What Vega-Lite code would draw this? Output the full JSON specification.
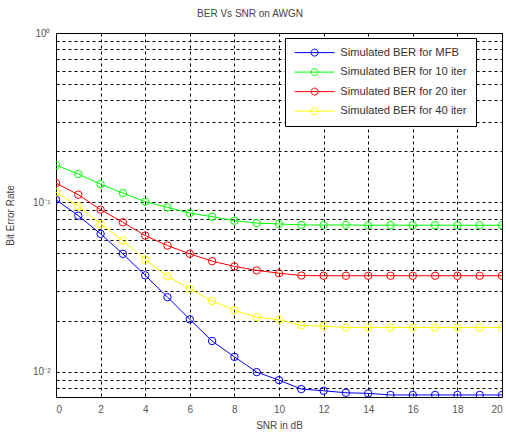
{
  "$schema": "https://vega.github.io/schema/vega-lite/v6.json",
  "autosize": {"type": "none"},
  "padding": {"left": 56, "top": 33, "right": 4, "bottom": 35},
  "width": 446,
  "height": 364,
  "background": "white",
  "title": {"text": "BER Vs SNR on AWGN", "font": "Liberation Sans", "fontSize": 10, "fontWeight": "normal", "color": "#444444", "offset": 9, "dx": -29},
  "config": {
    "view": {"stroke": "black", "strokeWidth": 1},
    "axis": {"labelFont": "Liberation Sans", "labelFontSize": 10, "labelColor": "#555555", "titleFont": "Liberation Sans", "titleFontSize": 10, "titleFontWeight": "normal", "titleColor": "#444444", "grid": true, "gridColor": "black", "gridDash": [3, 3], "gridOpacity": 1, "gridWidth": 1, "ticks": false, "domain": false},
    "legend": {"labelFont": "Liberation Sans", "labelFontSize": 11.2, "labelColor": "#333333"}
  },
  "data": {"values": [
    {"snr": 0, "ber": 0.1037, "series": "Simulated BER for MFB"},
    {"snr": 1, "ber": 0.0835, "series": "Simulated BER for MFB"},
    {"snr": 2, "ber": 0.0652, "series": "Simulated BER for MFB"},
    {"snr": 3, "ber": 0.0497, "series": "Simulated BER for MFB"},
    {"snr": 4, "ber": 0.0371, "series": "Simulated BER for MFB"},
    {"snr": 5, "ber": 0.0276, "series": "Simulated BER for MFB"},
    {"snr": 6, "ber": 0.0204, "series": "Simulated BER for MFB"},
    {"snr": 7, "ber": 0.0152, "series": "Simulated BER for MFB"},
    {"snr": 8, "ber": 0.01225, "series": "Simulated BER for MFB"},
    {"snr": 9, "ber": 0.00996, "series": "Simulated BER for MFB"},
    {"snr": 10, "ber": 0.00893, "series": "Simulated BER for MFB"},
    {"snr": 11, "ber": 0.00791, "series": "Simulated BER for MFB"},
    {"snr": 12, "ber": 0.00773, "series": "Simulated BER for MFB"},
    {"snr": 13, "ber": 0.00752, "series": "Simulated BER for MFB"},
    {"snr": 14, "ber": 0.00746, "series": "Simulated BER for MFB"},
    {"snr": 15, "ber": 0.0073, "series": "Simulated BER for MFB"},
    {"snr": 16, "ber": 0.0073, "series": "Simulated BER for MFB"},
    {"snr": 17, "ber": 0.0073, "series": "Simulated BER for MFB"},
    {"snr": 18, "ber": 0.0073, "series": "Simulated BER for MFB"},
    {"snr": 19, "ber": 0.0073, "series": "Simulated BER for MFB"},
    {"snr": 20, "ber": 0.0073, "series": "Simulated BER for MFB"},
    {"snr": 0, "ber": 0.166, "series": "Simulated BER for 10 iter"},
    {"snr": 1, "ber": 0.147, "series": "Simulated BER for 10 iter"},
    {"snr": 2, "ber": 0.128, "series": "Simulated BER for 10 iter"},
    {"snr": 3, "ber": 0.1135, "series": "Simulated BER for 10 iter"},
    {"snr": 4, "ber": 0.101, "series": "Simulated BER for 10 iter"},
    {"snr": 5, "ber": 0.0935, "series": "Simulated BER for 10 iter"},
    {"snr": 6, "ber": 0.0864, "series": "Simulated BER for 10 iter"},
    {"snr": 7, "ber": 0.0824, "series": "Simulated BER for 10 iter"},
    {"snr": 8, "ber": 0.078, "series": "Simulated BER for 10 iter"},
    {"snr": 9, "ber": 0.0755, "series": "Simulated BER for 10 iter"},
    {"snr": 10, "ber": 0.0746, "series": "Simulated BER for 10 iter"},
    {"snr": 11, "ber": 0.0736, "series": "Simulated BER for 10 iter"},
    {"snr": 12, "ber": 0.0735, "series": "Simulated BER for 10 iter"},
    {"snr": 13, "ber": 0.0736, "series": "Simulated BER for 10 iter"},
    {"snr": 14, "ber": 0.0733, "series": "Simulated BER for 10 iter"},
    {"snr": 15, "ber": 0.0734, "series": "Simulated BER for 10 iter"},
    {"snr": 16, "ber": 0.0733, "series": "Simulated BER for 10 iter"},
    {"snr": 17, "ber": 0.0734, "series": "Simulated BER for 10 iter"},
    {"snr": 18, "ber": 0.0733, "series": "Simulated BER for 10 iter"},
    {"snr": 19, "ber": 0.0733, "series": "Simulated BER for 10 iter"},
    {"snr": 20, "ber": 0.0733, "series": "Simulated BER for 10 iter"},
    {"snr": 0, "ber": 0.130, "series": "Simulated BER for 20 iter"},
    {"snr": 1, "ber": 0.111, "series": "Simulated BER for 20 iter"},
    {"snr": 2, "ber": 0.0906, "series": "Simulated BER for 20 iter"},
    {"snr": 3, "ber": 0.0763, "series": "Simulated BER for 20 iter"},
    {"snr": 4, "ber": 0.0637, "series": "Simulated BER for 20 iter"},
    {"snr": 5, "ber": 0.0556, "series": "Simulated BER for 20 iter"},
    {"snr": 6, "ber": 0.0497, "series": "Simulated BER for 20 iter"},
    {"snr": 7, "ber": 0.045, "series": "Simulated BER for 20 iter"},
    {"snr": 8, "ber": 0.0419, "series": "Simulated BER for 20 iter"},
    {"snr": 9, "ber": 0.0397, "series": "Simulated BER for 20 iter"},
    {"snr": 10, "ber": 0.0382, "series": "Simulated BER for 20 iter"},
    {"snr": 11, "ber": 0.0370, "series": "Simulated BER for 20 iter"},
    {"snr": 12, "ber": 0.0369, "series": "Simulated BER for 20 iter"},
    {"snr": 13, "ber": 0.0369, "series": "Simulated BER for 20 iter"},
    {"snr": 14, "ber": 0.0369, "series": "Simulated BER for 20 iter"},
    {"snr": 15, "ber": 0.0369, "series": "Simulated BER for 20 iter"},
    {"snr": 16, "ber": 0.0369, "series": "Simulated BER for 20 iter"},
    {"snr": 17, "ber": 0.0369, "series": "Simulated BER for 20 iter"},
    {"snr": 18, "ber": 0.0369, "series": "Simulated BER for 20 iter"},
    {"snr": 19, "ber": 0.0369, "series": "Simulated BER for 20 iter"},
    {"snr": 20, "ber": 0.0369, "series": "Simulated BER for 20 iter"},
    {"snr": 0, "ber": 0.1145, "series": "Simulated BER for 40 iter"},
    {"snr": 1, "ber": 0.095, "series": "Simulated BER for 40 iter"},
    {"snr": 2, "ber": 0.0746, "series": "Simulated BER for 40 iter"},
    {"snr": 3, "ber": 0.0595, "series": "Simulated BER for 40 iter"},
    {"snr": 4, "ber": 0.046, "series": "Simulated BER for 40 iter"},
    {"snr": 5, "ber": 0.0366, "series": "Simulated BER for 40 iter"},
    {"snr": 6, "ber": 0.0309, "series": "Simulated BER for 40 iter"},
    {"snr": 7, "ber": 0.0262, "series": "Simulated BER for 40 iter"},
    {"snr": 8, "ber": 0.0231, "series": "Simulated BER for 40 iter"},
    {"snr": 9, "ber": 0.021, "series": "Simulated BER for 40 iter"},
    {"snr": 10, "ber": 0.0203, "series": "Simulated BER for 40 iter"},
    {"snr": 11, "ber": 0.0188, "series": "Simulated BER for 40 iter"},
    {"snr": 12, "ber": 0.0186, "series": "Simulated BER for 40 iter"},
    {"snr": 13, "ber": 0.01825, "series": "Simulated BER for 40 iter"},
    {"snr": 14, "ber": 0.01825, "series": "Simulated BER for 40 iter"},
    {"snr": 15, "ber": 0.01825, "series": "Simulated BER for 40 iter"},
    {"snr": 16, "ber": 0.01825, "series": "Simulated BER for 40 iter"},
    {"snr": 17, "ber": 0.01825, "series": "Simulated BER for 40 iter"},
    {"snr": 18, "ber": 0.01825, "series": "Simulated BER for 40 iter"},
    {"snr": 19, "ber": 0.01825, "series": "Simulated BER for 40 iter"},
    {"snr": 20, "ber": 0.01825, "series": "Simulated BER for 40 iter"}
  ]},
  "encoding": {
    "x": {"field": "snr", "type": "quantitative", "scale": {"domain": [0, 20], "nice": false, "zero": false},
      "axis": {"values": [0, 2, 4, 6, 8, 10, 12, 14, 16, 18, 20], "title": "SNR in dB", "labelPadding": 7, "titlePadding": 6}},
    "y": {"field": "ber", "type": "quantitative", "scale": {"type": "log", "domain": [0.0071, 1], "nice": false},
      "axis": {"values": [0.008, 0.009, 0.01, 0.02, 0.03, 0.04, 0.05, 0.06, 0.07, 0.08, 0.09, 0.1, 0.2, 0.3, 0.4, 0.5, 0.6, 0.7, 0.8, 0.9, 1],
        "labelExpr": "datum.value == 1 ? '10⁰' : datum.value == 0.1 ? '10⁻¹' : datum.value == 0.01 ? '10⁻²' : ''",
        "title": "Bit Error Rate", "labelPadding": 6, "titlePadding": 17}}
  },
  "layer": [
    {"mark": {"type": "line", "strokeWidth": 1, "clip": true},
     "encoding": {"color": {"field": "series", "type": "nominal",
       "scale": {"domain": ["Simulated BER for MFB", "Simulated BER for 10 iter", "Simulated BER for 20 iter", "Simulated BER for 40 iter"], "range": ["#0000FF", "#00FF00", "#FF0000", "#FFFF00"]},
       "legend": {"title": null, "orient": "none", "legendX": 229, "legendY": 5, "strokeColor": "black", "fillColor": "white", "padding": 9, "rowPadding": 6.5,
         "symbolType": "M-1,0L7,0M2.3,0A0.7,0.7,0,1,1,3.7,0A0.7,0.7,0,1,1,2.3,0", "symbolSize": 100, "symbolStrokeWidth": 1, "symbolFillColor": "transparent", "labelOffset": 35}}}},
    {"mark": {"type": "point", "shape": "circle", "filled": false, "size": 55, "strokeWidth": 1, "opacity": 1, "clip": true},
     "encoding": {"color": {"field": "series", "type": "nominal", "legend": null,
       "scale": {"domain": ["Simulated BER for MFB", "Simulated BER for 10 iter", "Simulated BER for 20 iter", "Simulated BER for 40 iter"], "range": ["#0000FF", "#00FF00", "#FF0000", "#FFFF00"]}}}}
  ]
}
